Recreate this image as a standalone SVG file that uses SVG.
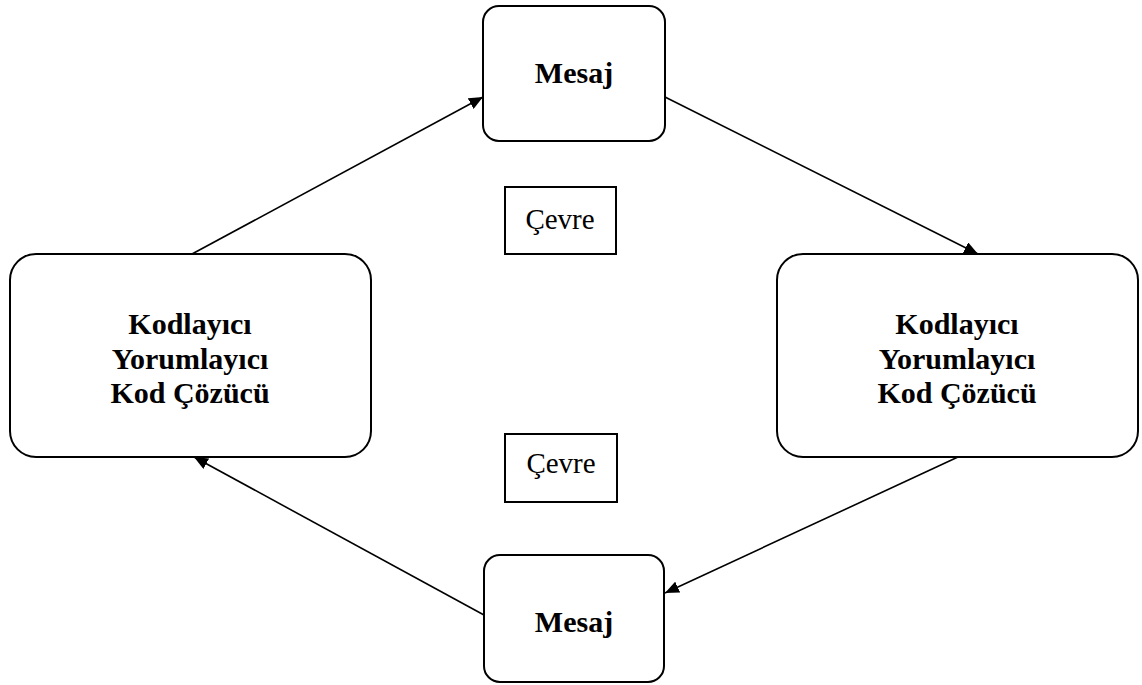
<svg xmlns="http://www.w3.org/2000/svg" width="1142" height="685" viewBox="0 0 1142 685">
  <style>
    .box { fill: #fff; stroke: #000; stroke-width: 2; }
    .env { fill: #fff; stroke: #000; stroke-width: 2; }
    .bold { font-family: "Liberation Serif", "Times New Roman", serif; font-weight: bold; font-size: 30px; text-anchor: middle; fill: #000; }
    .reg { font-family: "Liberation Serif", "Times New Roman", serif; font-size: 29px; text-anchor: middle; fill: #000; }
    .edge { stroke: #000; stroke-width: 1.6; fill: none; marker-end: url(#arrow); }
  </style>
  <defs>
    <marker id="arrow" viewBox="0 0 14 12" refX="14" refY="6" markerWidth="14" markerHeight="12" markerUnits="userSpaceOnUse" orient="auto">
      <path d="M0,0 L14,6 L0,12 z" fill="#000"/>
    </marker>
  </defs>

  <g id="connectors">
    <line class="edge" x1="192" y1="254" x2="483" y2="97"/>
    <line class="edge" x1="665" y1="97" x2="978" y2="254"/>
    <line class="edge" x1="958" y1="457" x2="665" y2="593"/>
    <line class="edge" x1="484" y1="615" x2="194" y2="457"/>
  </g>

  <g id="mesaj-top">
    <rect class="box" x="483" y="6" width="182" height="135" rx="16"/>
    <text class="bold" x="574" y="83">Mesaj</text>
  </g>

  <g id="codec-left">
    <rect class="box" x="10" y="254" width="361" height="203" rx="26"/>
    <text class="bold" x="190" y="334">Kodlayıcı</text>
    <text class="bold" x="190" y="369">Yorumlayıcı</text>
    <text class="bold" x="190" y="403">Kod Çözücü</text>
  </g>

  <g id="codec-right">
    <rect class="box" x="777" y="254" width="361" height="203" rx="26"/>
    <text class="bold" x="957" y="334">Kodlayıcı</text>
    <text class="bold" x="957" y="369">Yorumlayıcı</text>
    <text class="bold" x="957" y="403">Kod Çözücü</text>
  </g>

  <g id="cevre-top">
    <rect class="env" x="505" y="187" width="111" height="67"/>
    <text class="reg" x="560" y="229">Çevre</text>
  </g>

  <g id="cevre-bottom">
    <rect class="env" x="505" y="434" width="112" height="68"/>
    <text class="reg" x="561" y="473">Çevre</text>
  </g>

  <g id="mesaj-bottom">
    <rect class="box" x="484" y="555" width="180" height="127" rx="16"/>
    <text class="bold" x="574" y="632">Mesaj</text>
  </g>
</svg>
